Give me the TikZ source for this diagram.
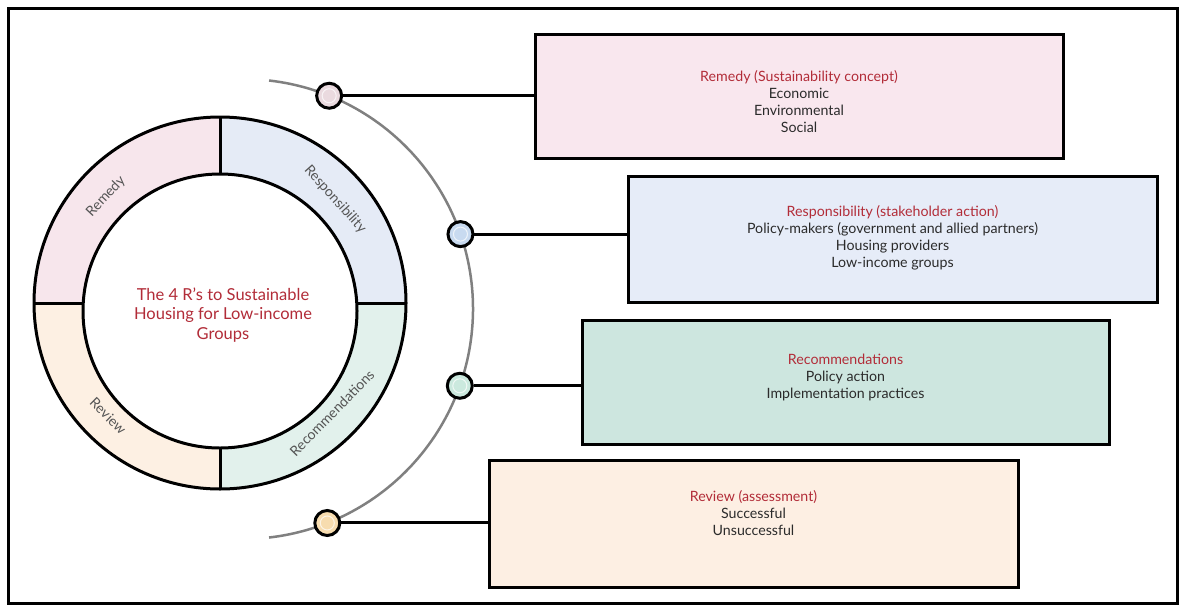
\documentclass[tikz,border=0pt]{standalone}
\usepackage{fontspec}
\setmainfont{Lato}
\usetikzlibrary{calc}

\definecolor{ringPink}{HTML}{F7E6EC}
\definecolor{ringBlue}{HTML}{E5EBF6}
\definecolor{ringGreen}{HTML}{E2F1EC}
\definecolor{ringOrange}{HTML}{FDF0E3}
\definecolor{boxPink}{HTML}{F9E7EE}
\definecolor{boxBlue}{HTML}{E6ECF8}
\definecolor{boxGreen}{HTML}{CDE6DF}
\definecolor{boxOrange}{HTML}{FDEFE3}
\definecolor{dotPink}{HTML}{EADADF}
\definecolor{dotBlue}{HTML}{C8DAF0}
\definecolor{dotGreen}{HTML}{CBE9DE}
\definecolor{dotOrange}{HTML}{F7DCAF}
\definecolor{titleRed}{RGB}{178,44,56}
\definecolor{bodyText}{HTML}{2B2B2B}
\definecolor{ringText}{HTML}{555555}
\definecolor{arcGray}{HTML}{808080}

\tikzset{
  heavy/.style={line width=3pt, draw=black},
  infobox/.style={heavy, rectangle, inner sep=0pt},
  boxtext/.style={align=center, text=bodyText, font=\fontsize{14.2}{17}\selectfont},
  ringlabel/.style={text=ringText, font=\fontsize{14}{16}\selectfont},
  dotnode/.style={circle, heavy, minimum size=25pt, inner sep=0pt},
  dotring/.style={circle, draw=white, draw opacity=0.7, line width=1pt, minimum size=14pt, inner sep=0pt},
  link/.style={line width=3pt, draw=black},
}

\begin{document}
\begin{tikzpicture}[x=1pt,y=-1pt]
\useasboundingbox (0,0) rectangle (1182,608);

% outer frame
\draw[line width=3pt] (8,8) rectangle (1177,603);

% ring centres
\coordinate (O) at (220,303);
\coordinate (I) at (220,311);
\coordinate (C) at (243,309);

% quadrant fills of the ring
\begin{scope}
  \clip (0,0) rectangle (220,303);
  \fill[ringPink] (O) circle[radius=186pt];
\end{scope}
\begin{scope}
  \clip (220,0) rectangle (460,303);
  \fill[ringBlue] (O) circle[radius=186pt];
\end{scope}
\begin{scope}
  \clip (220,303) rectangle (460,608);
  \fill[ringGreen] (O) circle[radius=186pt];
\end{scope}
\begin{scope}
  \clip (0,303) rectangle (220,608);
  \fill[ringOrange] (O) circle[radius=186pt];
\end{scope}
\fill[white] (I) circle[radius=137pt];

% dividers between the four sectors
\draw[line width=3pt] (220,117) -- (220,174);
\draw[line width=3pt] (220,448) -- (220,489);
\draw[line width=3pt] (34,303) -- (83,303);
\draw[line width=3pt] (357,303) -- (406,303);

% ring outlines
\draw[line width=3pt] (O) circle[radius=186pt];
\draw[line width=3pt] (I) circle[radius=137pt];

% ring labels
\node[ringlabel, rotate=47]    (lRem)  at ($(O)+(137:156pt)$)   {Remedy};
\node[ringlabel, rotate=-48]   (lResp) at ($(O)+(42:155pt)$)    {Responsibility};
\node[ringlabel, rotate=45.5]  (lRec)  at ($(O)+(-44.5:157pt)$) {Recommendations};
\node[ringlabel, rotate=-44.7] (lRev)  at ($(O)+(-134.7:159pt)$) {Review};

% centre title
\node[align=center, text=titleRed, font=\fontsize{16.5}{19.5}\selectfont] (title) at (223,315)
  {The 4 R’s to Sustainable\\Housing for Low-income\\Groups};

% grey guide arc
\draw[arcGray, line width=2.5pt] ($(C)+(83.5:230pt)$) arc[start angle=83.5, end angle=-83.5, radius=230pt];

% boxes
\node[infobox, fill=boxPink,   minimum width=528pt, minimum height=124pt] (b1) at (799,96) {};
\node[infobox, fill=boxBlue,   minimum width=529pt, minimum height=126pt] (b2) at (892.5,239) {};
\node[infobox, fill=boxGreen,  minimum width=527pt, minimum height=124pt] (b3) at (845.5,382) {};
\node[infobox, fill=boxOrange, minimum width=529pt, minimum height=127pt] (b4) at (753.5,523.5) {};

% box texts
\node[boxtext] (t1) at (799,102)
  {\textcolor{titleRed}{Remedy (Sustainability concept)}\\Economic\\Environmental\\Social};
\node[boxtext] (t2) at (892.5,238)
  {\textcolor{titleRed}{Responsibility (stakeholder action)}\\Policy-makers (government and allied partners)\\Housing providers\\Low-income groups};
\node[boxtext] (t3) at (845.5,377)
  {\textcolor{titleRed}{Recommendations}\\Policy action\\Implementation practices};
\node[boxtext] (t4) at (753.5,513)
  {\textcolor{titleRed}{Review (assessment)}\\Successful\\Unsuccessful};

% markers on the arc
\node[dotnode, fill=dotPink]   (d1) at ($(C)+(68:230pt)$)    {};
\node[dotnode, fill=dotBlue]   (d2) at ($(C)+(19:230pt)$)    {};
\node[dotnode, fill=dotGreen]  (d3) at ($(C)+(-19.5:230pt)$) {};
\node[dotnode, fill=dotOrange] (d4) at ($(C)+(-68.5:230pt)$) {};
\node[dotring] (r1) at (d1) {};
\node[dotring] (r2) at (d2) {};
\node[dotring] (r3) at (d3) {};
\node[dotring] (r4) at (d4) {};

% connectors from markers to boxes
\draw[link] (d1.east) -- (d1.east -| b1.west);
\draw[link] (d2.east) -- (d2.east -| b2.west);
\draw[link] (d3.east) -- (d3.east -| b3.west);
\draw[link] (d4.east) -- (d4.east -| b4.west);
\end{tikzpicture}
\end{document}
